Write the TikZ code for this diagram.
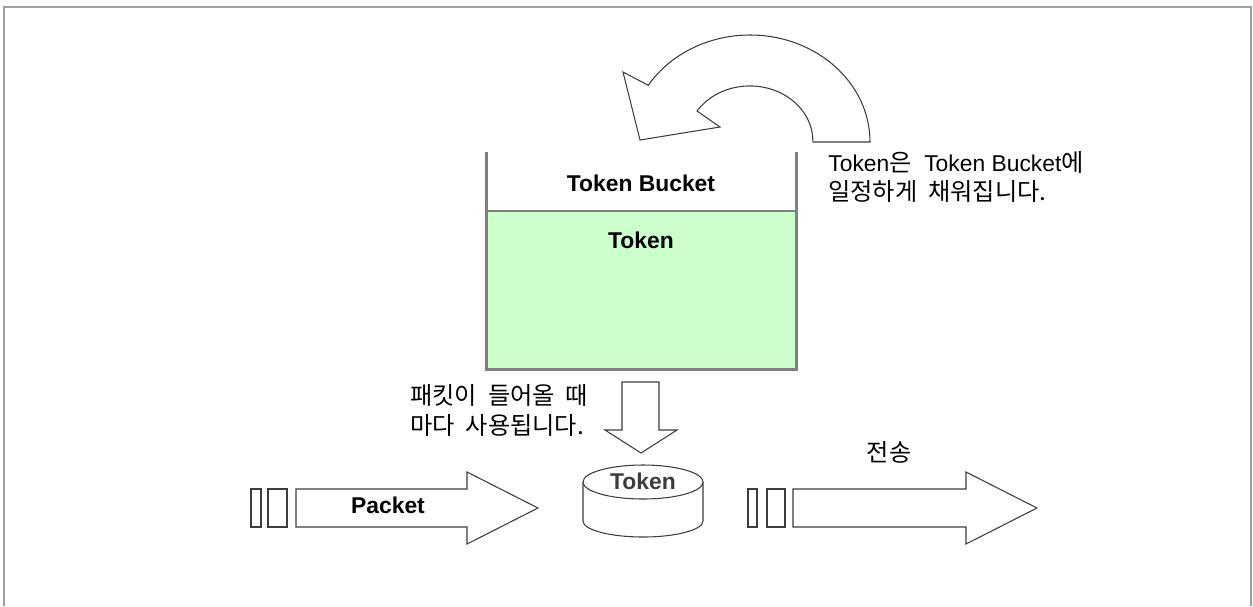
\documentclass[tikz,border=0pt]{standalone}
\usepackage{fontspec}
\setmainfont{Liberation Sans}
\newfontfamily\kr[Scale=1.06]{Noto Sans CJK KR}
\usetikzlibrary{positioning}
\definecolor{F}{RGB}{160,160,160}
\definecolor{W}{RGB}{128,128,128}
\definecolor{G}{RGB}{204,255,204}
\definecolor{D}{RGB}{60,60,60}
\tikzstyle{txt} = [
inner sep=0pt,
font=\fontsize{13}{17}\selectfont
]
\tikzstyle{btxt} = [
inner sep=0pt,
font=\fontsize{13}{17}\selectfont\bfseries
]
\tikzstyle{outline} = [draw=D, line width=0.6pt, fill=white]
\tikzstyle{wall} = [draw=W, line width=1.7pt]

\begin{document}
\begin{tikzpicture}[x=0.02cm, y=-0.02cm]
      \useasboundingbox (0,0) rectangle (1253,606);
      \draw [F, line width=1.1pt] (4,606) -- (4,7) -- (1251,7) -- (1251,606);
      % bucket
      \fill [G] (486,211) rectangle (796,369);
      \draw [W, line width=0.6pt] (486,211) -- (796,211);
      \draw [wall] (486,152) -- (486,369) -- (796,369) -- (796,152);
      \node (bucket) [btxt] at (641,183) {Token Bucket};
      \node (level) [btxt] at (641,240) {Token};
      % refill arrow
      \draw [outline] (813,142) -- (870,142)
            arc [start angle=0, end angle=-148, x radius=120, y radius=107]
            -- (623,72) -- (640,140) -- (720,127) -- (697,111)
            arc [start angle=-147, end angle=0, x radius=63, y radius=55] -- cycle;
      \node (refill) [txt, align=left, anchor=west] at (828,177)
            {Token{\kr 은}\ \ Token Bucket{\kr 에}\\{\kr 일정하게\ \ 채워집니다.}};
      % use arrow
      \draw [outline] (622,382) -- (659,382) -- (659,430) -- (677,430) -- (641,453)
            -- (605,430) -- (622,430) -- cycle;
      \node (use) [txt, align=left, anchor=west] at (410,410)
            {\kr 패킷이\ \ 들어올\ \ 때\\\kr 마다\ \ 사용됩니다.};
      % token disk
      \draw [outline] (583,482) -- (583,521)
            arc [start angle=180, end angle=0, x radius=60, y radius=16] -- (703,482);
      \draw [outline] (643,482) ellipse [x radius=60, y radius=17];
      \node (disk) [btxt, text=D] at (643,481) {Token};
      % packet in
      \draw [outline] (251,489) rectangle (261,527);
      \draw [outline] (268,489) rectangle (287,527);
      \draw [outline] (296,489) -- (467,489) -- (467,472) -- (538,508) -- (467,544)
            -- (467,527) -- (296,527) -- cycle;
      \node (packet) [btxt] at (388,505) {Packet};
      % packet out
      \draw [outline] (748,489) rectangle (757,527);
      \draw [outline] (767,489) rectangle (785,527);
      \draw [outline] (793,489) -- (966,489) -- (966,472) -- (1037,508) -- (966,544)
            -- (966,527) -- (793,527) -- cycle;
      \node (send) [txt] at (889,452) {\kr 전송};
\end{tikzpicture}
\end{document}
